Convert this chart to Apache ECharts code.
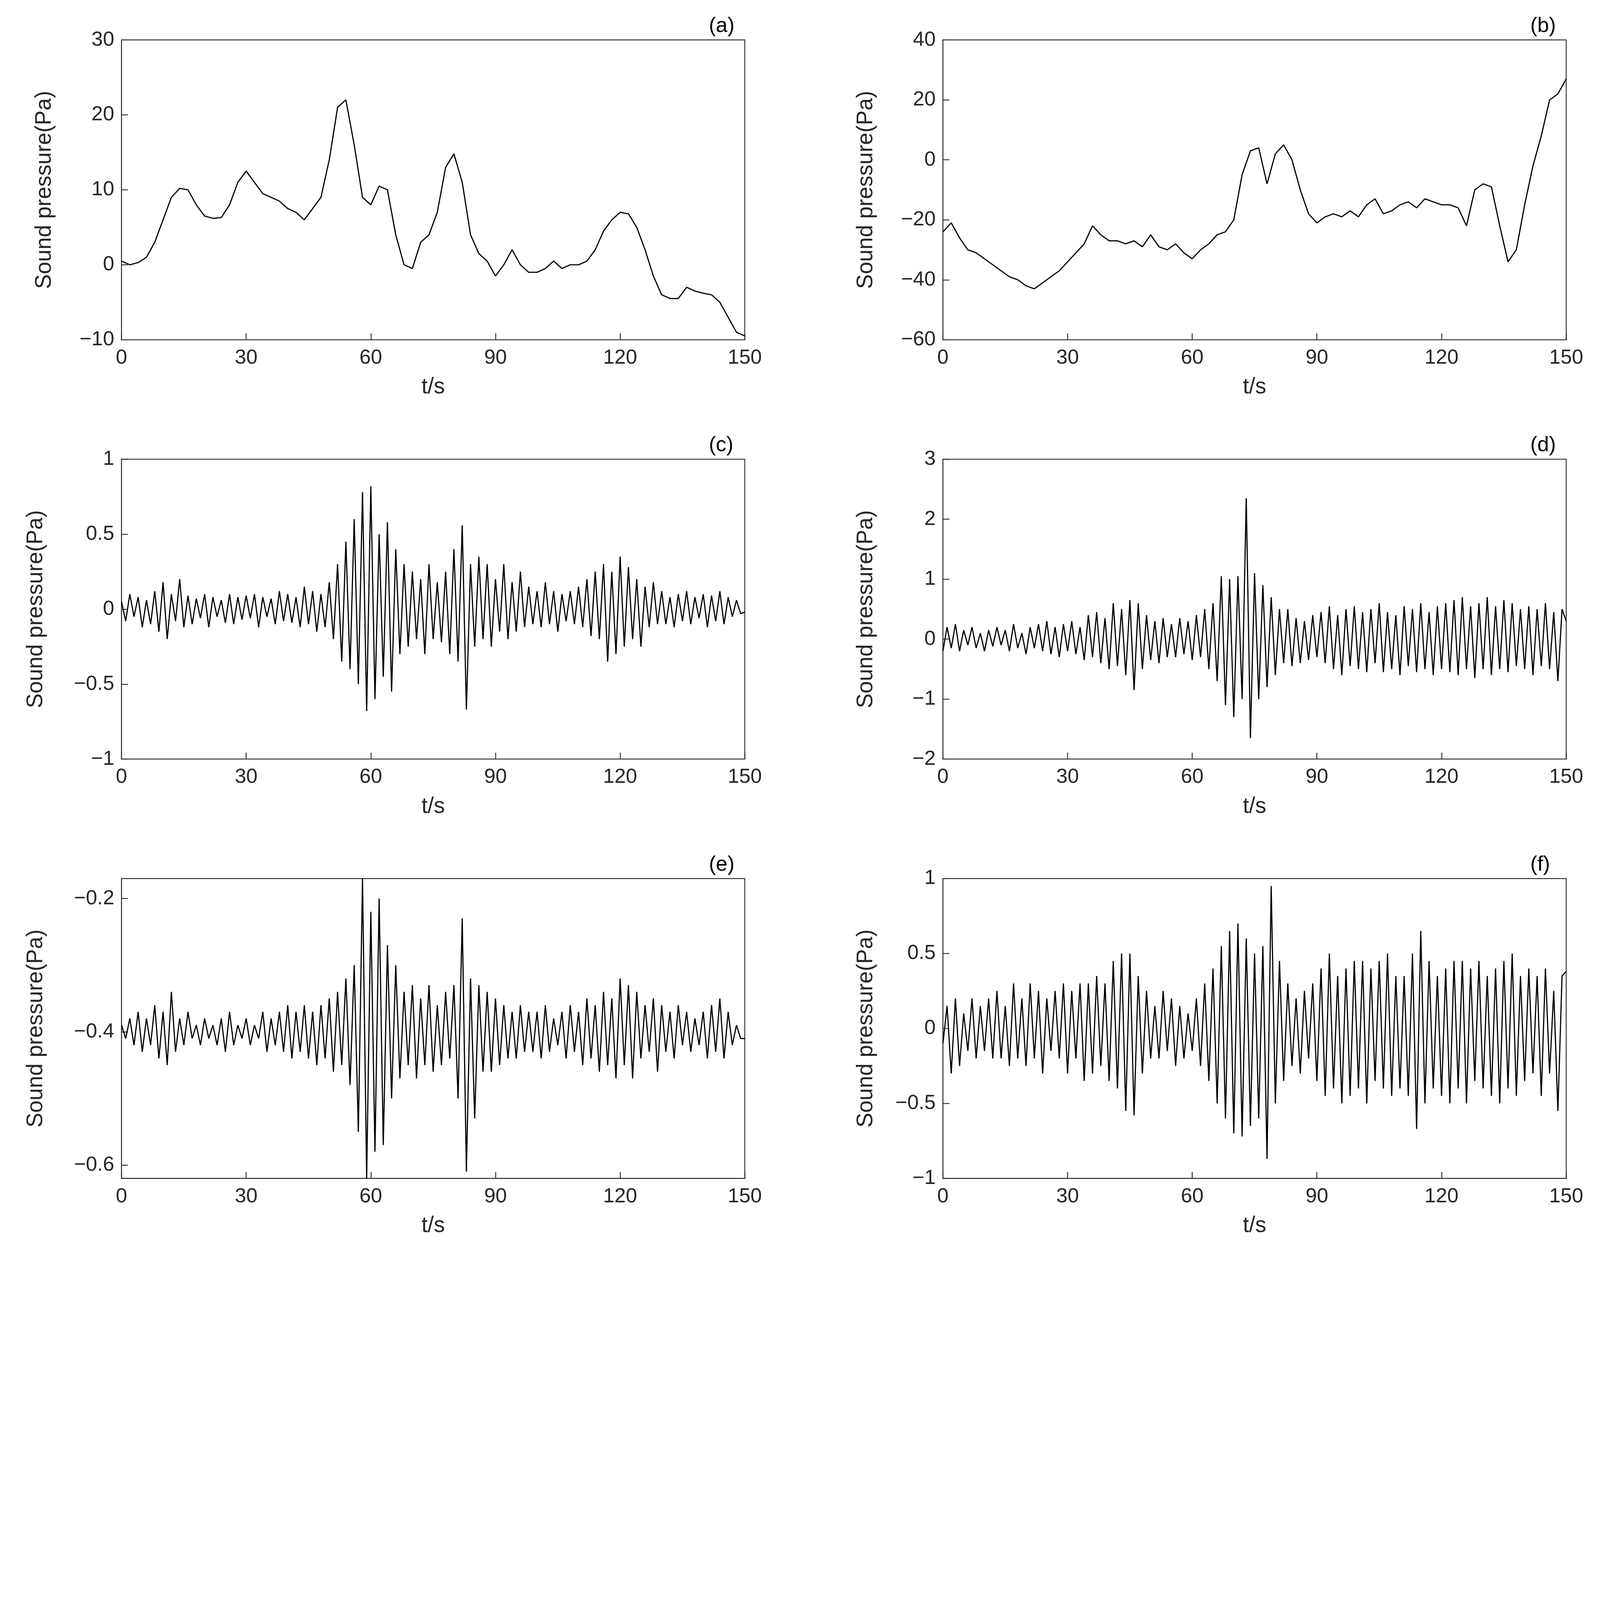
<!DOCTYPE html>
<html>
<head>
  <meta charset="UTF-8">
  <script src="https://cdn.jsdelivr.net/npm/echarts@6/dist/echarts.min.js"></script>
  <style>html,body{margin:0;background:#fff;overflow:hidden}#chart{width:100vw;height:100vh}</style>
</head>
<body>
<div id="chart"></div>
<script>
// panel (a), sampled every 2 s
var dataA = [0.5,0,0.3,1,3,6,9,10.2,10,8,6.5,6.2,6.3,8,11,12.5,11,9.5,9,8.5,7.5,7,6,7.5,9,14,21,22,16,9,8,10.5,10,4,0,-0.5,3,4,7,13,14.8,11,4,1.5,0.5,-1.5,0,2,0,-1,-1,-0.5,0.5,-0.5,0,0,0.5,2,4.5,6,7,6.8,5,2,-1.5,-4,-4.5,-4.5,-3,-3.5,-3.8,-4,-5,-7,-9,-9.5];
// panel (b), sampled every 2 s
var dataB = [-24,-21,-26,-30,-31,-33,-35,-37,-39,-40,-42,-43,-41,-39,-37,-34,-31,-28,-22,-25,-27,-27,-28,-27,-29,-25,-29,-30,-28,-31,-33,-30,-28,-25,-24,-20,-5,3,4,-8,2,5,0,-10,-18,-21,-19,-18,-19,-17,-19,-15,-13,-18,-17,-15,-14,-16,-13,-14,-15,-15,-16,-22,-10,-8,-9,-22,-34,-30,-15,-2,8,20,22,27];
// panels (c)-(f), sampled every 1 s
var dataC = [0.05,-0.08,0.1,-0.05,0.08,-0.12,0.06,-0.1,0.12,-0.15,
0.18,-0.2,0.1,-0.08,0.2,-0.12,0.09,-0.1,0.07,-0.06,
0.1,-0.12,0.08,-0.05,0.06,-0.09,0.1,-0.1,0.08,-0.07,
0.09,-0.06,0.1,-0.12,0.08,-0.05,0.07,-0.1,0.12,-0.08,
0.1,-0.09,0.08,-0.12,0.15,-0.1,0.12,-0.15,0.1,-0.12,
0.18,-0.2,0.3,-0.35,0.45,-0.4,0.6,-0.5,0.78,-0.68,
0.82,-0.6,0.5,-0.45,0.58,-0.55,0.4,-0.3,0.3,-0.25,
0.25,-0.2,0.2,-0.3,0.3,-0.2,0.18,-0.22,0.25,-0.3,
0.4,-0.35,0.56,-0.67,0.3,-0.25,0.35,-0.2,0.3,-0.25,
0.2,-0.15,0.3,-0.2,0.18,-0.15,0.25,-0.12,0.15,-0.1,
0.12,-0.12,0.18,-0.1,0.12,-0.15,0.1,-0.08,0.12,-0.1,
0.15,-0.12,0.2,-0.18,0.25,-0.2,0.3,-0.35,0.25,-0.3,
0.35,-0.25,0.28,-0.2,0.2,-0.25,0.15,-0.12,0.18,-0.1,
0.12,-0.1,0.08,-0.12,0.1,-0.08,0.12,-0.1,0.08,-0.06,
0.1,-0.12,0.09,-0.08,0.12,-0.1,0.08,-0.05,0.06,-0.03,-0.02];
var dataD = [-0.2,0.2,-0.15,0.25,-0.2,0.15,-0.1,0.2,-0.15,0.1,
-0.2,0.15,-0.12,0.2,-0.1,0.15,-0.2,0.25,-0.15,0.1,
-0.25,0.2,-0.15,0.25,-0.2,0.3,-0.25,0.2,-0.3,0.25,
-0.2,0.3,-0.25,0.2,-0.35,0.4,-0.3,0.45,-0.4,0.35,
-0.5,0.6,-0.45,0.5,-0.6,0.65,-0.85,0.6,-0.5,0.4,
-0.35,0.3,-0.4,0.35,-0.3,0.25,-0.3,0.35,-0.25,0.3,
-0.35,0.4,-0.3,0.5,-0.5,0.6,-0.7,1.05,-1.1,1.0,
-1.3,1.05,-1.0,2.35,-1.65,1.1,-1.0,0.9,-0.8,0.7,
-0.6,0.5,-0.4,0.5,-0.45,0.35,-0.4,0.3,-0.35,0.4,
-0.3,0.45,-0.4,0.55,-0.5,0.4,-0.6,0.5,-0.45,0.55,
-0.5,0.45,-0.55,0.5,-0.4,0.6,-0.55,0.45,-0.5,0.4,
-0.6,0.55,-0.45,0.5,-0.55,0.6,-0.5,0.45,-0.6,0.55,
-0.5,0.6,-0.55,0.65,-0.6,0.7,-0.5,0.55,-0.65,0.6,
-0.5,0.7,-0.6,0.55,-0.5,0.65,-0.55,0.6,-0.45,0.5,
-0.5,0.55,-0.6,0.5,-0.45,0.6,-0.5,0.45,-0.7,0.5,0.3];
var dataE = [-0.39,-0.41,-0.38,-0.42,-0.37,-0.43,-0.38,-0.42,-0.36,-0.44,
-0.37,-0.45,-0.34,-0.43,-0.38,-0.42,-0.37,-0.41,-0.39,-0.42,
-0.38,-0.41,-0.39,-0.42,-0.38,-0.43,-0.37,-0.42,-0.39,-0.41,
-0.38,-0.42,-0.39,-0.41,-0.37,-0.43,-0.38,-0.42,-0.37,-0.43,
-0.36,-0.44,-0.37,-0.43,-0.36,-0.44,-0.37,-0.45,-0.36,-0.44,
-0.35,-0.46,-0.34,-0.45,-0.32,-0.48,-0.3,-0.55,-0.17,-0.62,
-0.22,-0.58,-0.2,-0.57,-0.27,-0.5,-0.3,-0.47,-0.34,-0.45,
-0.33,-0.47,-0.35,-0.45,-0.33,-0.46,-0.36,-0.45,-0.34,-0.44,
-0.33,-0.5,-0.23,-0.61,-0.32,-0.53,-0.33,-0.46,-0.34,-0.46,
-0.35,-0.45,-0.36,-0.44,-0.37,-0.44,-0.36,-0.43,-0.37,-0.43,
-0.37,-0.44,-0.36,-0.43,-0.38,-0.42,-0.37,-0.44,-0.36,-0.43,
-0.37,-0.45,-0.35,-0.44,-0.36,-0.46,-0.34,-0.45,-0.35,-0.47,
-0.32,-0.45,-0.33,-0.47,-0.34,-0.44,-0.36,-0.43,-0.35,-0.46,
-0.36,-0.43,-0.37,-0.44,-0.36,-0.42,-0.37,-0.43,-0.38,-0.42,
-0.37,-0.44,-0.36,-0.43,-0.35,-0.44,-0.37,-0.42,-0.39,-0.41,-0.41];
var dataF = [-0.1,0.15,-0.3,0.2,-0.25,0.1,-0.15,0.2,-0.2,0.15,
-0.15,0.2,-0.2,0.25,-0.2,0.15,-0.25,0.3,-0.2,0.2,
-0.25,0.3,-0.2,0.25,-0.3,0.2,-0.15,0.25,-0.2,0.3,
-0.3,0.25,-0.2,0.3,-0.35,0.3,-0.3,0.35,-0.25,0.3,
-0.35,0.45,-0.4,0.5,-0.55,0.5,-0.58,0.35,-0.3,0.25,
-0.2,0.15,-0.2,0.25,-0.15,0.2,-0.25,0.15,-0.2,0.1,
-0.15,0.2,-0.25,0.3,-0.35,0.4,-0.5,0.55,-0.6,0.65,
-0.7,0.7,-0.72,0.6,-0.65,0.5,-0.6,0.55,-0.87,0.95,
-0.5,0.45,-0.35,0.3,-0.25,0.2,-0.3,0.25,-0.2,0.3,
-0.35,0.4,-0.45,0.5,-0.4,0.35,-0.5,0.4,-0.45,0.45,
-0.4,0.45,-0.5,0.4,-0.35,0.45,-0.4,0.5,-0.45,0.35,
-0.4,0.35,-0.45,0.5,-0.67,0.65,-0.5,0.45,-0.4,0.35,
-0.45,0.4,-0.5,0.45,-0.4,0.45,-0.5,0.4,-0.35,0.45,
-0.4,0.35,-0.45,0.4,-0.5,0.45,-0.4,0.5,-0.45,0.35,
-0.35,0.4,-0.3,0.35,-0.45,0.4,-0.3,0.25,-0.55,0.35,0.38];

var xTicks = [0, 30, 60, 90, 120, 150];
var labels = ['(a)', '(b)', '(c)', '(d)', '(e)', '(f)'];
var panels = [
  {data: dataA, step: 2, min: -10, max: 30, ticks: [-10, 0, 10, 20, 30]},
  {data: dataB, step: 2, min: -60, max: 40, ticks: [-60, -40, -20, 0, 20, 40]},
  {data: dataC, step: 1, min: -1, max: 1, ticks: [-1, -0.5, 0, 0.5, 1]},
  {data: dataD, step: 1, min: -2, max: 3, ticks: [-2, -1, 0, 1, 2, 3]},
  {data: dataE, step: 1, min: -0.62, max: -0.17, ticks: [-0.6, -0.4, -0.2]},
  {data: dataF, step: 1, min: -1, max: 1, ticks: [-1, -0.5, 0, 0.5, 1]}
];

// layout is measured on the 5491 px wide reference and scaled to the window
var s = window.innerWidth / 5491;
var lefts = [417, 3236], tops = [137, 1576, 3015], W = 2139, H = 1029;
var yGaps = [225, 225, 255, 225, 255, 225];

function fmt(v) { return String(v).replace('-', '\u2212'); }

var grid = [], xAxis = [], yAxis = [], series = [], title = [];
panels.forEach(function (p, i) {
  var col = i % 2, row = Math.floor(i / 2);
  grid.push({left: lefts[col] * s, top: tops[row] * s, width: W * s, height: H * s,
    show: true, borderColor: '#262626', borderWidth: 3 * s});
  xAxis.push({type: 'value', gridIndex: i, min: 0, max: 150,
    name: 't/s', nameLocation: 'middle', nameGap: 125 * s,
    nameTextStyle: {fontSize: 76 * s, color: '#262626', fontFamily: 'Liberation Sans'},
    axisLine: {onZero: false, lineStyle: {color: '#262626', width: 3 * s}},
    axisTick: {inside: true, length: 22 * s, customValues: xTicks, lineStyle: {width: 3 * s}},
    axisLabel: {customValues: xTicks, fontSize: 70 * s, color: '#262626', margin: 28 * s, fontFamily: 'Liberation Sans'},
    splitLine: {show: false}});
  yAxis.push({type: 'value', gridIndex: i, min: p.min, max: p.max,
    name: 'Sound pressure(Pa)', nameLocation: 'middle', nameGap: yGaps[i] * s,
    nameTextStyle: {fontSize: 76 * s, color: '#262626', fontFamily: 'Liberation Sans'},
    axisLine: {onZero: false, lineStyle: {color: '#262626', width: 3 * s}},
    axisTick: {inside: true, length: 22 * s, customValues: p.ticks, lineStyle: {width: 3 * s}},
    axisLabel: {customValues: p.ticks, fontSize: 70 * s, color: '#262626', margin: 25 * s,
      fontFamily: 'Liberation Sans', formatter: fmt},
    splitLine: {show: false}});
  series.push({type: 'line', xAxisIndex: i, yAxisIndex: i, showSymbol: false,
    lineStyle: {color: '#000', width: 4 * s}, animation: false,
    data: p.data.map(function (v, k) { return [k * p.step, v]; })});
  title.push({text: labels[i], left: (lefts[col] + W - 130) * s, top: (tops[row] - 90) * s,
    textStyle: {fontSize: 72 * s, fontWeight: 'normal', color: '#000', fontFamily: 'Liberation Sans'}});
});

var chart = echarts.init(document.getElementById('chart'));
chart.setOption({animation: false, backgroundColor: '#fff', title: title,
  grid: grid, xAxis: xAxis, yAxis: yAxis, series: series});
</script>
</body>
</html>
